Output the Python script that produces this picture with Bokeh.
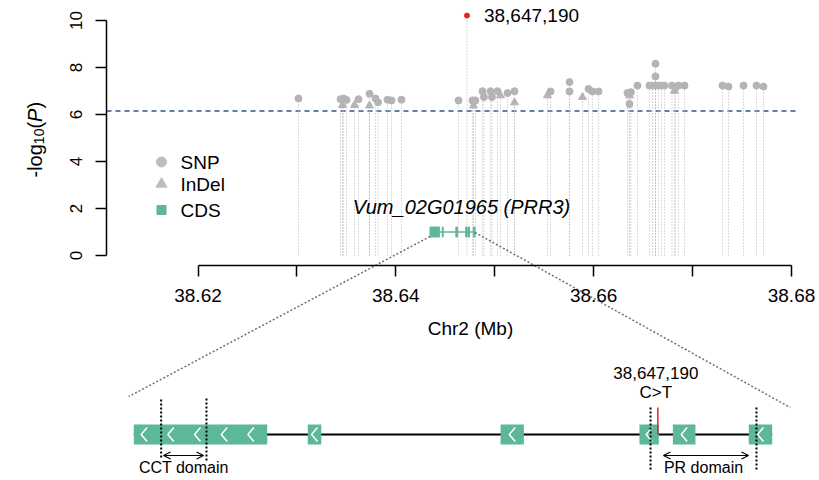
import numpy as np
from math import pi
from bokeh.plotting import figure
from bokeh.models import Range1d, LinearAxis, FixedTicker, PrintfTickFormatter, Arrow, OpenHead
from bokeh.core.properties import value
from bokeh.embed import file_html
from bokeh.resources import INLINE

# ---------------- data ----------------
snp_pos = [38.63016, 38.63441, 38.63471, 38.63501, 38.63623, 38.63734, 38.63794, 38.63820,
           38.63916, 38.63956, 38.64057, 38.64634, 38.64775, 38.64805, 38.64876, 38.64891,
           38.64957, 38.64972, 38.65028, 38.65129, 38.65200, 38.65564, 38.65756, 38.65756,
           38.65948, 38.65988, 38.66049, 38.66342, 38.66377, 38.66362, 38.66443, 38.66564,
           38.66595, 38.66625, 38.66625, 38.66625, 38.66655, 38.66686, 38.66716, 38.66792,
           38.66827, 38.66858, 38.66918, 38.67302, 38.67363, 38.67515, 38.67646, 38.67717]
snp_logp = [6.68, 6.65, 6.68, 6.62, 6.65, 6.88, 6.68, 6.52,
            6.63, 6.60, 6.63, 6.60, 6.60, 6.60, 6.99, 6.74,
            6.99, 6.74, 6.99, 6.91, 6.99, 6.98, 7.38, 6.98,
            7.09, 6.98, 6.98, 6.92, 6.95, 6.45, 7.23, 7.23,
            7.23, 8.16, 7.62, 7.23, 7.23, 7.23, 7.23, 7.23,
            7.16, 7.23, 7.23, 7.23, 7.19, 7.23, 7.23, 7.19]
indel_pos = [38.63461, 38.63582, 38.63734, 38.64785, 38.65058, 38.65200, 38.65533, 38.65887, 38.66362, 38.66817]
indel_logp = [6.40, 6.40, 6.38, 6.38, 6.81, 6.51, 6.81, 6.74, 6.81, 7.00]
lead_pos = 38.647190
lead_logp = 10.21
lead_label = "38,647,190"
variant_labels = ["38,647,190", "C>T"]
threshold = 6.15

gene_label = "Vum_02G01965 (PRR3)"
gene_start = 38.643455
gene_end = 38.648005
exon_start = [38.643455, 38.644695, 38.646069, 38.647059, 38.647297, 38.647838]
exon_end = [38.644406, 38.644791, 38.646235, 38.647197, 38.647458, 38.648005]
cct_domain = [38.643650, 38.643973]
cct_arrow = [38.643667, 38.643952]
pr_domain = [38.647138, 38.647893]
pr_arrow = [38.647230, 38.647836]
domain_labels = ["CCT domain", "PR domain"]

x_ticks_major = [38.62, 38.64, 38.66, 38.68]
x_ticks_minor = [38.63, 38.65, 38.67]
y_ticks = [0, 2, 4, 6, 8, 10]
legend_labels = ["SNP", "InDel", "CDS"]
x_title = "Chr2 (Mb)"

# ---------------- layout constants ----------------
W, H = 819, 480
PX_PER_MB = 9891.7
X0_PX = 197.5            # pixel of first x tick
PX_PER_UNIT = 23.5
Y0_PX = 255              # pixel of y = 0
mx_start = x_ticks_major[0] - X0_PX / PX_PER_MB
mx_end = mx_start + W / PX_PER_MB
y_end = Y0_PX / PX_PER_UNIT
y_start = -(H - Y0_PX) / PX_PER_UNIT


def xd(px):
    return mx_start + px / PX_PER_MB


def yd(py):
    return (Y0_PX - py) / PX_PER_UNIT


# zoomed gene panel x range
Z_LEFT_PX, Z_RIGHT_PX = 133.3, 771.7
z_scale = (Z_RIGHT_PX - Z_LEFT_PX) / (gene_end - gene_start)
zr_start = gene_start - Z_LEFT_PX / z_scale
zr_end = zr_start + W / z_scale
zpx = 1.0 / z_scale


def z_to_main(zx):
    return mx_start + (zx - zr_start) / (zr_end - zr_start) * (mx_end - mx_start)


GREEN = "#5cb896"
GREY = "#b4b4b4"
FONT = "Liberation Sans"

p = figure(width=W, height=H, x_range=Range1d(mx_start, mx_end), y_range=Range1d(y_start, y_end),
           output_backend="svg", toolbar_location=None, x_axis_type=None, y_axis_type=None,
           min_border=0, min_border_left=0, min_border_right=0, min_border_top=0, min_border_bottom=0)
p.outline_line_color = None
p.background_fill_color = "white"
p.border_fill_color = "white"
p.extra_x_ranges = {"zoom": Range1d(zr_start, zr_end)}


def style_axis(ax, fs):
    ax.axis_line_width = 1.5
    ax.axis_line_color = "black"
    ax.major_tick_line_width = 1.5
    ax.major_tick_line_color = "black"
    ax.major_tick_out = 11
    ax.major_tick_in = 0
    ax.minor_tick_out = 11
    ax.minor_tick_in = 0
    ax.minor_tick_line_width = 1.5
    ax.minor_tick_line_color = "black"
    ax.major_label_text_font = FONT
    ax.major_label_text_font_size = fs
    ax.major_label_text_color = "black"


yaxis = LinearAxis(fixed_location=xd(106), bounds=(y_ticks[0], y_ticks[-1]),
                   ticker=FixedTicker(ticks=y_ticks), formatter=PrintfTickFormatter(format="%d"))
style_axis(yaxis, "17px")
yaxis.major_label_orientation = "vertical"
yaxis.major_label_standoff = 14
p.add_layout(yaxis, "left")

xaxis = LinearAxis(fixed_location=yd(265), bounds=(x_ticks_major[0], x_ticks_major[-1]),
                   ticker=FixedTicker(ticks=x_ticks_major, minor_ticks=x_ticks_minor),
                   formatter=PrintfTickFormatter(format="%.2f"))
style_axis(xaxis, "19px")
xaxis.major_label_standoff = 12
p.add_layout(xaxis, "below")

# x axis title
p.text(x=[xd(470)], y=[yd(328)], text=[x_title], text_align="center", text_baseline="middle",
       text_font=value(FONT), text_font_size="19px", text_color="black")

# y axis title: -log10(P), composed
fsz, ssz = 20, 14
adv = {"-": 0.333, "l": 0.222, "o": 0.556, "g": 0.556, "1": 0.556, "0": 0.556, "(": 0.333, ")": 0.333, "P": 0.667}
pieces = [("-log", fsz, "normal", 0), ("10", ssz, "normal", 4), ("(", fsz, "normal", 0),
          ("P", fsz, "italic", 0), (")", fsz, "normal", 0)]
ycur = 177.0
for txt, sz, style, shift in pieces:
    p.text(x=[xd(34.5 + shift)], y=[yd(ycur)], text=[txt], angle=pi / 2, text_align="left",
           text_baseline="alphabetic", text_font=value(FONT), text_font_size=f"{sz}px",
           text_font_style=style, text_color="black")
    ycur -= sum(adv[c] for c in txt) * sz

# threshold
p.line(x=[xd(106), xd(797)], y=[threshold, threshold], line_dash="5 4", line_color="#34528f", line_width=1.6)

# vertical dotted stems
all_pos = snp_pos + indel_pos + [lead_pos]
all_val = snp_logp + indel_logp + [lead_logp]
p.segment(x0=all_pos, y0=[0] * len(all_pos), x1=all_pos, y1=all_val, line_color="#b8b8b8",
          line_dash="1 2", line_width=1)

p.scatter(x=snp_pos, y=snp_logp, marker="circle", size=7, fill_color=GREY, line_color=GREY)
p.scatter(x=indel_pos, y=indel_logp, marker="triangle", size=8, fill_color=GREY, line_color=GREY)
p.scatter(x=[lead_pos], y=[lead_logp], marker="circle", size=5, fill_color="#e3242b", line_color="#e3242b")
p.text(x=[lead_pos], y=[lead_logp], text=[lead_label], x_offset=17, text_baseline="middle",
       text_font=value(FONT), text_font_size="19px", text_color="black")

# gene in top panel
g_y = 1.0
p.line(x=[gene_start, gene_end], y=[g_y, g_y], line_color=GREEN, line_width=1.5)
p.quad(left=exon_start, right=exon_end, bottom=g_y - 5 / PX_PER_UNIT, top=g_y + 5 / PX_PER_UNIT,
       fill_color=GREEN, line_color=GREEN, line_width=1)
p.text(x=[(gene_start + gene_end) / 2], y=[yd(206)], text=[gene_label], x_offset=9,
       text_align="center", text_baseline="middle", text_font=value(FONT), text_font_size="20px",
       text_font_style="italic", text_color="black")

# connectors
zl = gene_start - 5 * zpx
zr = gene_end + 18 * zpx
p.segment(x0=[gene_start, gene_end], y0=[yd(236), yd(232)], x1=[z_to_main(zl), z_to_main(zr)],
          y1=[yd(396), yd(407)], line_color="#707070", line_dash="2 2", line_width=1.5)

# legend
lx = xd(161)
p.scatter(x=[lx], y=[yd(161.5)], marker="circle", size=10, fill_color="#bdbdbd", line_color="#bdbdbd")
p.scatter(x=[lx], y=[yd(183.5)], marker="triangle", size=11, fill_color="#bdbdbd", line_color="#bdbdbd")
p.scatter(x=[lx], y=[yd(209.5)], marker="square", size=9, fill_color=GREEN, line_color=GREEN)
p.text(x=[xd(180)] * 3, y=[yd(161.5), yd(183.5), yd(209.5)], text=legend_labels, text_align="left",
       text_baseline="middle", text_font=value(FONT), text_font_size="19px", text_color="black")

# ---------------- zoomed gene model ----------------
yb = yd(434)
p.line(x=[gene_start, gene_end], y=[yb, yb], x_range_name="zoom", line_color="black", line_width=2)
p.quad(left=exon_start, right=exon_end, bottom=yb - 10 / PX_PER_UNIT, top=yb + 10 / PX_PER_UNIT,
       x_range_name="zoom", fill_color=GREEN, line_color=None)
chev_xs, chev_ys = [], []
for s, e in zip(exon_start, exon_end):
    wpx = (e - s) / zpx
    n = max(1, int(round(wpx / 27)))
    for i in range(n):
        cx = s + (i + 0.5) * (e - s) / n - (3 * zpx if n > 1 else 0)
        chev_xs.append([cx + 3 * zpx, cx - 3 * zpx, cx + 3 * zpx])
        chev_ys.append([yb + 7 / PX_PER_UNIT, yb, yb - 7 / PX_PER_UNIT])
p.multi_line(xs=chev_xs, ys=chev_ys, x_range_name="zoom", line_color="white", line_width=1.5)

p.segment(x0=[lead_pos], y0=[yd(407)], x1=[lead_pos], y1=[yb], x_range_name="zoom",
          line_color="#e3242b", line_width=1.5)
p.text(x=[lead_pos, lead_pos], y=[yd(372), yd(392)], text=variant_labels, x_offset=-2,
       x_range_name="zoom", text_align="center", text_baseline="middle", text_font=value(FONT),
       text_font_size="17px", text_color="black")

p.segment(x0=cct_domain + pr_domain, y0=[yd(399), yd(398), yd(407), yd(407)],
          x1=cct_domain + pr_domain, y1=[yd(459), yd(460), yd(469), yd(469)], x_range_name="zoom",
          line_color="black", line_dash="2 2", line_width=2)
for a in (cct_arrow, pr_arrow):
    p.add_layout(Arrow(x_start=a[0], x_end=a[1], y_start=yd(455), y_end=yd(455), x_range_name="zoom",
                       line_color="black", line_width=1.2,
                       start=OpenHead(size=7, line_width=1.2), end=OpenHead(size=7, line_width=1.2)))
p.text(x=[(cct_domain[0] + cct_domain[1]) / 2, (pr_domain[0] + pr_domain[1]) / 2], y=[yd(467)] * 2,
       text=domain_labels, x_range_name="zoom", text_align="center", text_baseline="middle",
       text_font=value(FONT), text_font_size="16px", text_color="black")

open("out.html", "w").write(file_html(p, INLINE))
